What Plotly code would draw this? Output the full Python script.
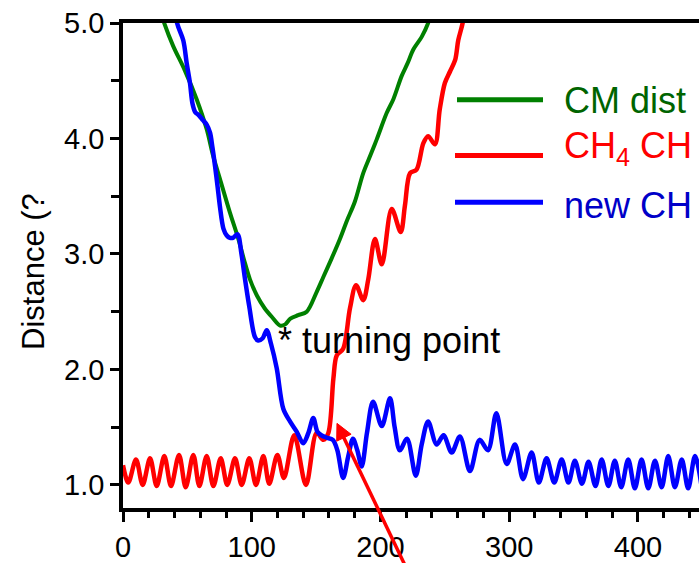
import plotly.graph_objects as go

# ---- data (time step vs. distance) ----
cm_x = [25, 32, 39, 48, 57.2, 65, 70, 75.3, 83, 89.6, 94, 98.6, 104, 110, 116, 122, 126, 130,
        136, 142.7, 150.4, 155.6, 162, 168.5, 174, 180, 186.6, 192, 197, 204.8, 210, 216.4,
        221, 225.5, 232, 237, 242]
cm_y = [5.25, 5.0, 4.80, 4.59, 4.34, 4.08, 3.85, 3.65, 3.36, 3.13, 2.95, 2.78, 2.64, 2.53, 2.45,
        2.38, 2.39, 2.44, 2.47, 2.50, 2.67, 2.80, 2.96, 3.13, 3.29, 3.45, 3.70, 3.85, 3.99, 4.22,
        4.34, 4.54, 4.65, 4.77, 4.88, 5.0, 5.2]

ch4_x = [0, 4.1, 10.1, 15.3, 21, 26.2, 32.1, 37.3, 43.5, 48.7, 54.6, 59.3, 65, 70.2, 75.9, 81,
         87, 92.2, 98.1, 103.3, 109, 113.6, 119.9, 125, 133, 142.1, 150.4, 155.6, 159.5, 163.4,
         166, 171, 176.3, 181, 186.6, 190.5, 195.7, 201, 208.7, 215.7, 219, 223, 228, 233.3,
         237, 242.3, 246, 250, 254, 258, 260.4, 263.8, 267]
ch4_y = [1.17, 1.02, 1.22, 1.00, 1.23, 0.99, 1.25, 0.99, 1.26, 0.98, 1.26, 0.99, 1.25, 0.99,
         1.23, 1.00, 1.23, 1.00, 1.23, 1.00, 1.25, 1.01, 1.26, 1.06, 1.43, 1.00, 1.45, 1.39,
         1.45, 1.92, 2.12, 2.18, 2.53, 2.73, 2.60, 2.78, 3.13, 2.91, 3.39, 3.19, 3.42, 3.70,
         3.73, 3.96, 4.02, 3.95, 4.25, 4.48, 4.58, 4.68, 4.85, 5.0, 5.25]

new_x = [38, 42, 46.8, 49.5, 52, 54, 56, 59, 62, 65, 67.6, 69.5, 71.5, 73.5, 75.3, 78, 80.6, 83,
         85.5, 89, 92, 94.8, 98, 102.5, 105, 108.5, 111.6, 115, 119.4, 124.5, 129.7, 135, 140,
         144, 147.8, 151, 154, 158, 163, 166.5, 171, 175, 178.6, 182, 185.4, 189.5, 194.2, 201,
         207.4, 211, 215, 220.6, 227.4, 232, 237, 243.6, 249, 255.3, 261.7, 269.5, 277, 283.5,
         290, 298, 304.5, 310.7, 317.4, 323, 329, 335, 340.7, 346, 351, 356.5, 361.6, 367,
         371.8, 377, 382, 387, 392.4, 397.6, 402.8, 408, 413.2, 418.4, 423.5, 428.7, 434, 439,
         444.3, 449.5]
new_y = [5.3, 5.0, 4.85, 4.65, 4.48, 4.30, 4.23, 4.20, 4.16, 4.12, 4.05, 3.92, 3.76, 3.58, 3.41,
         3.22, 3.16, 3.14, 3.14, 3.17, 3.0, 2.78, 2.55, 2.28, 2.25, 2.27, 2.34, 2.22, 2.01, 1.66,
         1.55, 1.46, 1.36, 1.45, 1.58, 1.46, 1.43, 1.41, 1.39, 1.30, 1.06, 1.25, 1.40, 1.30,
         1.16, 1.45, 1.72, 1.51, 1.75, 1.50, 1.30, 1.40, 1.08, 1.35, 1.55, 1.35, 1.43, 1.28,
         1.42, 1.12, 1.39, 1.30, 1.62, 1.18, 1.35, 1.05, 1.28, 1.02, 1.23, 1.02, 1.22, 1.02,
         1.21, 1.01, 1.20, 0.99, 1.22, 0.99, 1.21, 0.98, 1.22, 0.97, 1.22, 0.97, 1.21, 0.98,
         1.25, 0.98, 1.22, 0.97, 1.25, 0.98]

x_ticks = [0, 100, 200, 300, 400]
y_ticks = [1.0, 2.0, 3.0, 4.0, 5.0]
y_tick_text = ["1.0", "2.0", "3.0", "4.0", "5.0"]

series_names = ["CM dist", "CH<sub>4</sub> CH", "new CH"]
line_colors = ["#008000", "#ff0000", "#0000ff"]
text_colors = ["#006400", "#ff0000", "#0000c8"]

# ---- layout geometry (pixels) ----
W, H = 699, 563
L, R, T, B = 123, 0, 23, 53
PW, PH = W - L - R, H - T - B
X_RANGE = [0, 447.4]
Y_RANGE = [0.8, 5.0]
FONT = "Liberation Sans, Arial, Helvetica, sans-serif"


def px_x(p):
    return (p - L) / PW


def px_y(p):
    return (H - B - p) / PH


fig = go.Figure()
for xs, ys, name, col, w in [(cm_x, cm_y, series_names[0], line_colors[0], 4),
                             (ch4_x, ch4_y, series_names[1], line_colors[1], 4.5),
                             (new_x, new_y, series_names[2], line_colors[2], 4.5)]:
    fig.add_trace(go.Scatter(x=xs, y=ys, mode="lines", name=name,
                             line=dict(color=col, width=w, shape="spline", smoothing=0.9),
                             showlegend=False, hoverinfo="skip"))

# hand-drawn key: sample line + coloured label
key_rows = [(100, 100.5, 457), (156, 148.5, 455), (203, 206, 455)]
for (ly, ty, lx0), name, lc, tc in zip(key_rows, series_names, line_colors, text_colors):
    fig.add_shape(type="line", xref="paper", yref="paper",
                  x0=px_x(lx0), x1=px_x(543), y0=px_y(ly), y1=px_y(ly),
                  line=dict(color=lc, width=5))
    fig.add_annotation(xref="paper", yref="paper", x=px_x(562), y=px_y(ty),
                       xanchor="left", yanchor="middle", showarrow=False,
                       text=name, font=dict(family=FONT, size=36, color=tc))

# turning point label
fig.add_annotation(xref="x", yref="y", x=(276 - L) / PW * X_RANGE[1], y=2.247,
                   xanchor="left", yanchor="middle", showarrow=False,
                   text="* turning point", font=dict(family=FONT, size=36, color="black"))

# red arrow pointing at the crossing: shaft + filled head (pixel geometry)
tip = (337.0, 425.0)
tail = (410.0, 578.0)
dx, dy = tail[0] - tip[0], tail[1] - tip[1]
norm = (dx * dx + dy * dy) ** 0.5
ux, uy = dx / norm, dy / norm
head_len, head_half = 16.0, 8.0
bx, by = tip[0] + ux * head_len, tip[1] + uy * head_len
c1 = (bx - uy * head_half, by + ux * head_half)
c2 = (bx + uy * head_half, by - ux * head_half)
fig.add_shape(type="line", xref="paper", yref="paper",
              x0=px_x(bx - ux * 2), y0=px_y(by - uy * 2), x1=px_x(tail[0]), y1=px_y(tail[1]),
              line=dict(color="#ff0000", width=3.5))
fig.add_shape(type="path", xref="paper", yref="paper",
              path="M {:.4f} {:.4f} L {:.4f} {:.4f} L {:.4f} {:.4f} Z".format(
                  px_x(tip[0]), px_y(tip[1]), px_x(c1[0]), px_y(c1[1]),
                  px_x(c2[0]), px_y(c2[1])),
              fillcolor="#ff0000", line=dict(color="#ff0000", width=1))

# y title
fig.add_annotation(xref="paper", yref="paper", x=px_x(34), y=px_y(273),
                   xanchor="center", yanchor="middle", showarrow=False, textangle=-90,
                   text="Distance (?", font=dict(family=FONT, size=31, color="black"))

fig.update_xaxes(range=X_RANGE, tickvals=x_ticks, ticktext=[str(v) for v in x_ticks],
                 ticks="outside", ticklen=10, tickwidth=3, tickcolor="black",
                 minor=dict(dtick=20, tick0=0, ticks="outside", ticklen=6, tickwidth=2.5,
                            tickcolor="black", showgrid=False),
                 showline=True, linewidth=3.5, linecolor="black", mirror=True,
                 showgrid=False, zeroline=False,
                 tickfont=dict(family=FONT, size=29, color="black"))
fig.update_yaxes(range=Y_RANGE, tickvals=y_ticks, ticktext=y_tick_text,
                 ticks="outside", ticklen=9, tickwidth=3, tickcolor="black",
                 minor=dict(dtick=0.5, tick0=0, ticks="outside", ticklen=8, tickwidth=2.5,
                            tickcolor="black", showgrid=False),
                 showline=True, linewidth=3.5, linecolor="black", mirror=False,
                 showgrid=False, zeroline=False,
                 tickfont=dict(family=FONT, size=29, color="black"))

fig.update_layout(width=W, height=H, margin=dict(l=L, r=R, t=T, b=B, pad=0),
                  paper_bgcolor="white", plot_bgcolor="white", showlegend=False,
                  font=dict(family=FONT))

fig.write_html("out.html")
